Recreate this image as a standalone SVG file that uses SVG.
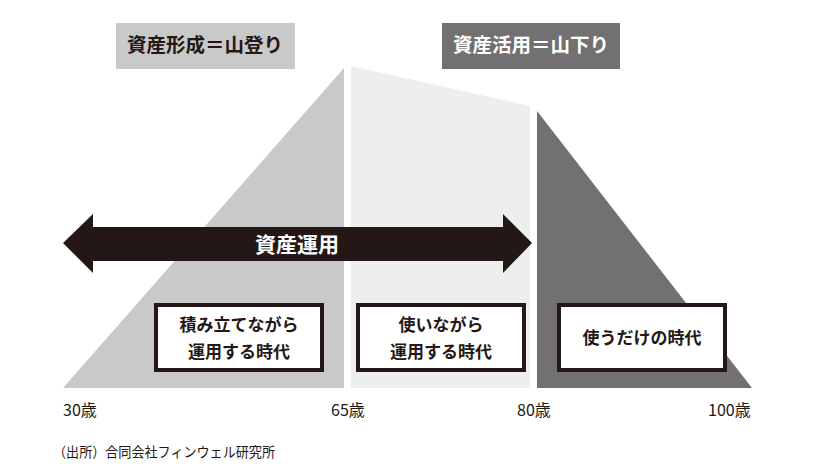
<svg xmlns="http://www.w3.org/2000/svg" width="822" height="465" viewBox="0 0 822 465">
<style>
text{font-family:"Noto Sans CJK JP","Noto Sans",sans-serif;text-anchor:middle}
.h{font-size:19.5px;font-weight:bold}
.b{font-size:17px;font-weight:bold;fill:#231815}
.box{fill:#fff;stroke:#231815;stroke-width:4}
.age{font-size:16px;fill:#231815;text-anchor:start}
.src{font-size:14px;fill:#231815;text-anchor:start}
</style>
<rect width="822" height="465" fill="#fff"/>
<g id="shapes">
<polygon id="phase1" points="63,388 344,68 344,388" fill="#c9c9ca"/>
<polygon id="phase2" points="351,66 530,106 530,388 351,388" fill="#eeeeee"/>
<polygon id="phase3" points="537,111 752,388 537,388" fill="#727071"/>
</g>
<g id="title-left">
<rect x="116" y="23" width="179" height="46" fill="#c9c9ca"/>
<text class="h" x="205" y="52" fill="#231815">資産形成＝山登り</text>
</g>
<g id="title-right">
<rect x="442" y="23" width="178" height="46" fill="#727071"/>
<text class="h" x="531" y="52" fill="#fff">資産活用＝山下り</text>
</g>
<g id="connectors">
<polygon id="arrow" points="63,243 93,214 93,227 503,227 503,214 532,243 503,273 503,261 93,261 93,273" fill="#231815"/>
</g>
<g id="arrow-label">
<text x="297" y="252" font-size="21" font-weight="bold" fill="#fff">資産運用</text>
</g>
<g id="box1">
<rect class="box" x="156" y="305" width="166" height="65"/>
<text class="b" x="239" y="331">積み立てながら</text>
<text class="b" x="239" y="358">運用する時代</text>
</g>
<g id="box2">
<rect class="box" x="358" y="305" width="166" height="65"/>
<text class="b" x="441" y="331">使いながら</text>
<text class="b" x="441" y="358">運用する時代</text>
</g>
<g id="box3">
<rect class="box" x="559" y="305" width="166" height="65"/>
<text class="b" x="642" y="344">使うだけの時代</text>
</g>
<g id="axis">
<text class="age" x="63" y="416">30歳</text>
<text class="age" x="331" y="416">65歳</text>
<text class="age" x="517" y="416">80歳</text>
<text class="age" x="708" y="416">100歳</text>
</g>
<g id="source">
<text class="src" x="53" y="457" textLength="222" lengthAdjust="spacingAndGlyphs">（出所）合同会社フィンウェル研究所</text>
</g>
</svg>
